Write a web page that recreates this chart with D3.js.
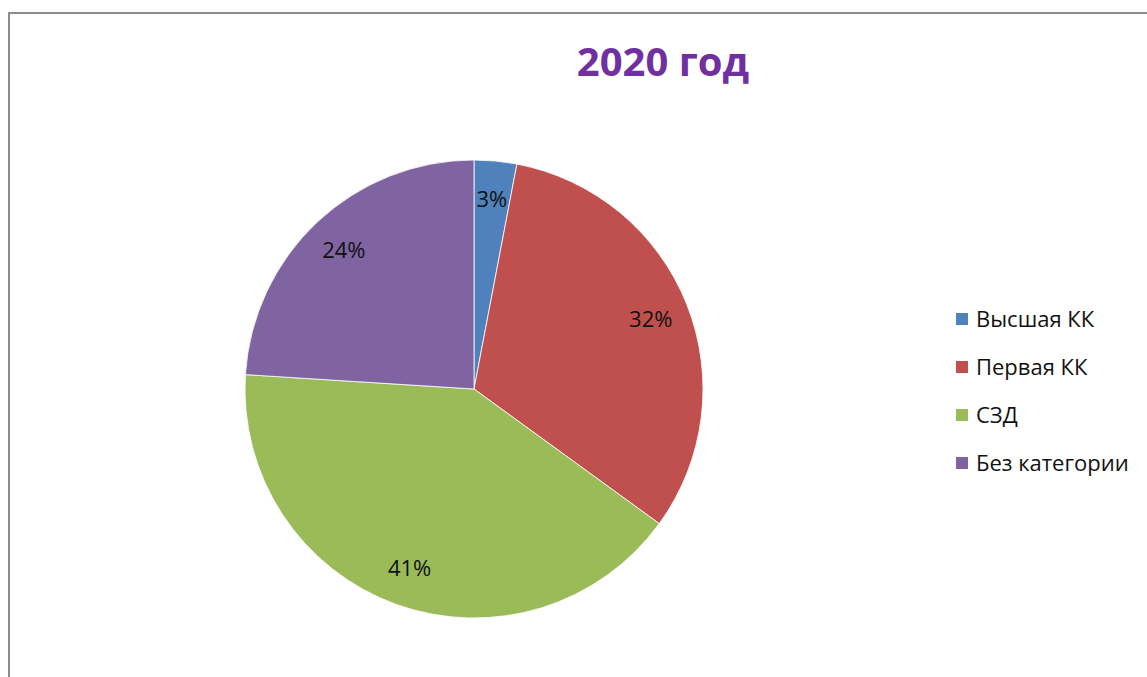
<!DOCTYPE html>
<html>
<head>
<meta charset="utf-8">
<script src="https://cdn.jsdelivr.net/npm/d3@7"></script>
<style>
  body { margin: 0; background: #fff; }
  svg { display: block; }
</style>
</head>
<body>
<div id="chart"></div>
<script>
/* DATA */
const categories = ["Высшая КК", "Первая КК", "СЗД", "Без категории"];
const shares = [3, 32, 41, 24];
const colors = ["#4F81BD", "#C0504D", "#9BBB59", "#8064A2"];
const title = "2020 год";

/* LAYOUT */
const width = 1147,
  height = 677,
  cx = 474,
  cy = 389,
  radius = 229;

const svg = d3.select("#chart")
  .append("svg")
  .attr("width", width)
  .attr("height", height);

// chart area border (only left and top edges visible in the shot)
svg.append("path")
  .attr("d", `M9,${height} L9,13 L${width},13`)
  .attr("fill", "none")
  .attr("stroke", "#8c8c8c")
  .attr("stroke-width", 2);

svg.append("text")
  .attr("x", 663)
  .attr("y", 76)
  .attr("text-anchor", "middle")
  .attr("font-family", "'Open Sans', sans-serif")
  .attr("font-weight", "bold")
  .attr("font-size", 40)
  .attr("fill", "#7030A0")
  .text(title);

const data = categories.map((c, i) => ({ name: c, value: shares[i], color: colors[i] }));

const pie = d3.pie()
  .sort(null)
  .value(d => d.value);

const arc = d3.arc()
  .innerRadius(0)
  .outerRadius(radius);

const labelArc = d3.arc()
  .innerRadius(radius * 0.83)
  .outerRadius(radius * 0.83);

const g = svg.append("g")
  .attr("transform", `translate(${cx},${cy})`);

const arcs = pie(data);

g.selectAll("path.slice")
  .data(arcs)
  .join("path")
  .attr("class", "slice")
  .attr("d", arc)
  .attr("fill", d => d.data.color)
  .attr("stroke", "#ffffff")
  .attr("stroke-width", 0.8);

g.selectAll("text.lbl")
  .data(arcs)
  .join("text")
  .attr("class", "lbl")
  .attr("transform", d => `translate(${labelArc.centroid(d)})`)
  .attr("text-anchor", "middle")
  .attr("dy", "0.35em")
  .attr("font-family", "'Open Sans', sans-serif")
  .attr("font-size", 22)
  .attr("fill", "#111")
  .text(d => d.data.value + "%");

// LEGEND
const legend = svg.append("g")
  .attr("transform", "translate(956,319)");

const item = legend.selectAll("g")
  .data(data)
  .join("g")
  .attr("transform", (d, i) => `translate(0,${i * 48})`);

item.append("rect")
  .attr("x", 0)
  .attr("y", -6)
  .attr("width", 12)
  .attr("height", 12)
  .attr("fill", d => d.color);

item.append("text")
  .attr("x", 20)
  .attr("dy", "0.35em")
  .attr("font-family", "'Open Sans', sans-serif")
  .attr("font-size", 22)
  .attr("fill", "#111")
  .text(d => d.name);
</script>
</body>
</html>
